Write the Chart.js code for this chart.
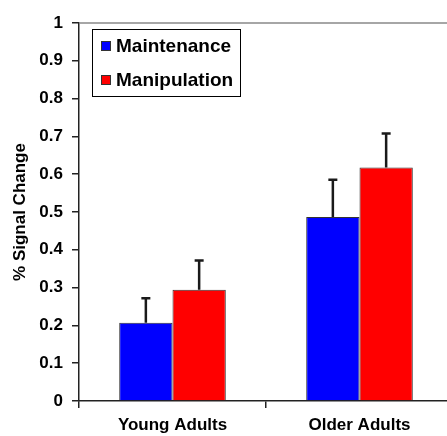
<!DOCTYPE html>
<html>
<head>
<meta charset="utf-8">
<script src="https://cdn.jsdelivr.net/npm/chart.js@4"></script>
<style>
  html, body { margin: 0; padding: 0; background: #fff; overflow: hidden; }
  #wrap { width: 447px; height: 436px; overflow: hidden; }
</style>
</head>
<body>
<div id="wrap"><canvas id="c" width="456" height="436"></canvas></div>
<script>
const groups = ["Young Adults", "Older Adults"];
const maintenance = [0.207, 0.487];
const manipulation = [0.294, 0.618];
const maintenanceErr = [0.065, 0.098];
const manipulationErr = [0.078, 0.09];
const yTicks = [0, 0.1, 0.2, 0.3, 0.4, 0.5, 0.6, 0.7, 0.8, 0.9, 1];

const FONT = "'Liberation Sans', Arial, sans-serif";

const errorBars = {
  id: "errorBars",
  afterDatasetsDraw(chart) {
    const ctx = chart.ctx;
    const y = chart.scales.y;
    chart.data.datasets.forEach((ds, di) => {
      const meta = chart.getDatasetMeta(di);
      meta.data.forEach((bar, i) => {
        const top = y.getPixelForValue(ds.data[i] + ds.err[i]);
        ctx.save();
        ctx.strokeStyle = "#1a1a1a";
        ctx.lineWidth = 2.5;
        ctx.beginPath();
        ctx.moveTo(bar.x, bar.y);
        ctx.lineTo(bar.x, top);
        ctx.moveTo(bar.x - 4.5, top);
        ctx.lineTo(bar.x + 4.5, top);
        ctx.stroke();
        ctx.restore();
      });
    });
  }
};

const boxLegend = {
  id: "boxLegend",
  afterDraw(chart) {
    const ctx = chart.ctx;
    const a = chart.chartArea;
    ctx.save();
    // top frame line
    ctx.strokeStyle = "#888";
    ctx.lineWidth = 1.5;
    ctx.beginPath();
    ctx.moveTo(a.left, a.top);
    ctx.lineTo(chart.width, a.top);
    ctx.stroke();

    const x = 92.5, yy = 29.5, w = 148, h = 67;
    ctx.fillStyle = "#fff";
    ctx.fillRect(x, yy, w, h);
    ctx.strokeStyle = "#000";
    ctx.lineWidth = 1;
    ctx.strokeRect(x, yy, w, h);
    ctx.font = "bold 19px " + FONT;
    ctx.textBaseline = "middle";
    chart.data.datasets.forEach((ds, i) => {
      const cy = 46 + i * 34;
      ctx.fillStyle = ds.backgroundColor;
      ctx.fillRect(101, cy - 5, 10, 10);
      ctx.strokeStyle = "#333";
      ctx.strokeRect(101.5, cy - 4.5, 9, 9);
      ctx.fillStyle = "#000";
      ctx.fillText(ds.label, 116, cy + 1);
    });
    ctx.restore();
  }
};

new Chart(document.getElementById("c"), {
  type: "bar",
  data: {
    labels: groups,
    datasets: [
      { label: "Maintenance", data: maintenance, err: maintenanceErr,
        backgroundColor: "#0000ff", borderColor: "#333", borderWidth: 1 },
      { label: "Manipulation", data: manipulation, err: manipulationErr,
        backgroundColor: "#ff0000", borderColor: "#333", borderWidth: 1 }
    ]
  },
  options: {
    responsive: false,
    animation: false,
    layout: { padding: { top: 23, right: 3, left: 0, bottom: 0 } },
    datasets: { bar: { categoryPercentage: 0.57, barPercentage: 1.0 } },
    plugins: { legend: { display: false }, tooltip: { enabled: false } },
    scales: {
      x: {
        grid: { offset: true, drawOnChartArea: false, tickLength: 7, color: "#222", lineWidth: 1.5 },
        border: { color: "#222", width: 1.5 },
        ticks: { color: "#000", font: { family: FONT, size: 17, weight: "bold" }, padding: 7 },
        afterFit(s) { s.height = 35; }
      },
      y: {
        min: 0, max: 1,
        afterBuildTicks(s) { s.ticks = yTicks.map(v => ({ value: v })); },
        grid: { drawOnChartArea: false, tickLength: 7, color: "#222", lineWidth: 1.5 },
        border: { color: "#222", width: 1.5 },
        ticks: {
          color: "#000", padding: 9,
          font: { family: FONT, size: 17, weight: "bold" },
          callback: v => String(v)
        },
        title: {
          display: true, text: "% Signal Change", color: "#000",
          font: { family: FONT, size: 17, weight: "bold" }, padding: { top: 10, bottom: 4 }
        },
        afterFit(s) { s.width = 79; }
      }
    }
  },
  plugins: [errorBars, boxLegend]
});
</script>
</body>
</html>
